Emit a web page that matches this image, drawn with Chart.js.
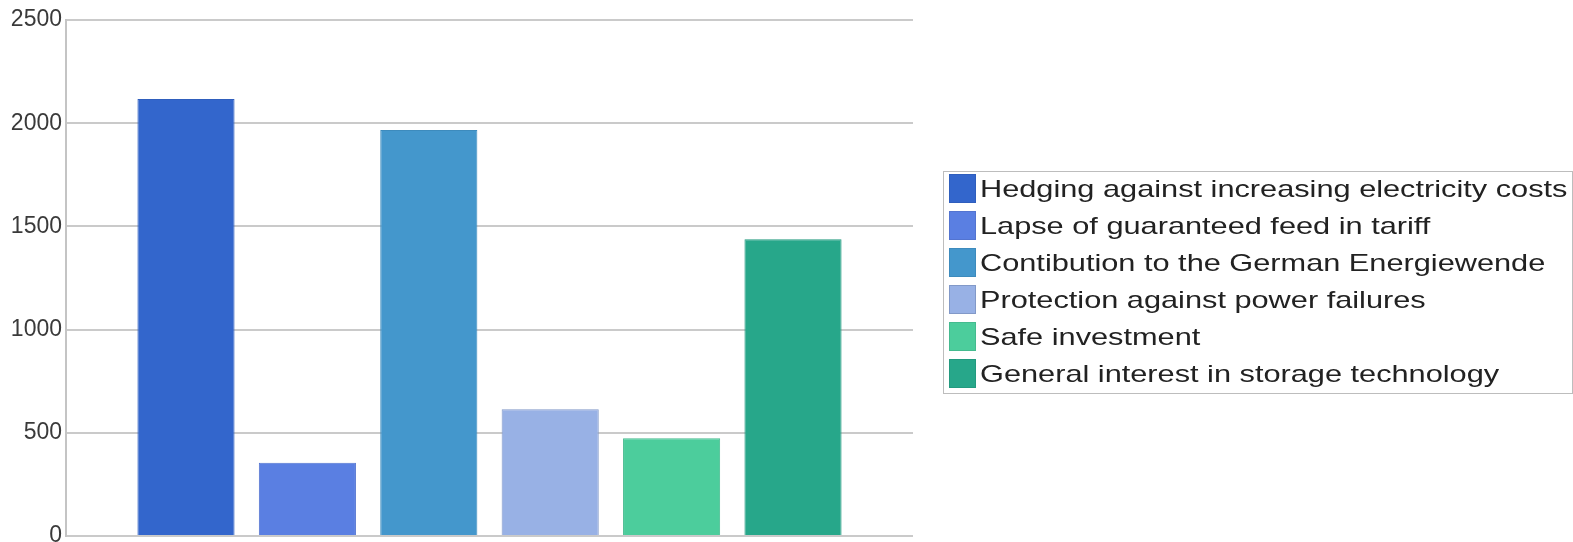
<!DOCTYPE html>
<html>
<head>
<meta charset="utf-8">
<script src="https://cdn.jsdelivr.net/npm/chart.js@4/dist/chart.umd.min.js"></script>
<style>
  html, body { margin: 0; padding: 0; background: #fff; }
</style>
</head>
<body>
<canvas id="chart" width="1573" height="542"></canvas>
<script>
// one category, one bar per reason
var categories = [''];
var reasons = [
  'Hedging against increasing electricity costs',
  'Lapse of guaranteed feed in tariff',
  'Contibution to the German Energiewende',
  'Protection against power failures',
  'Safe investment',
  'General interest in storage technology'
];
var counts = [2117, 355, 1967, 614, 474, 1438];
var yTicks = [0, 500, 1000, 1500, 2000, 2500];

var fills = ['#3366cc', '#5a7fe2', '#4497cc', '#98b1e5', '#4ccd9c', '#27a78a'];
var borders = ['#2f5ebd', '#5374d0', '#3d8bbd', '#8299c8', '#45bb8f', '#239a7f'];

var datasets = reasons.map(function (r, i) {
  return {
    label: r,
    data: [counts[i]],
    backgroundColor: fills[i],
    borderColor: borders[i],
    borderWidth: 1,
    categoryPercentage: 0.86,
    barPercentage: 0.8
  };
});

// boxed legend on the right, text is drawn a bit stretched like the original
var boxLegend = {
  id: 'boxLegend',
  afterDraw: function (chart) {
    var ctx = chart.ctx;
    var x0 = 943, y0 = 171, w = 629, h = 222;
    ctx.save();
    ctx.strokeStyle = '#bdbdbd';
    ctx.lineWidth = 1;
    ctx.strokeRect(x0 + 0.5, y0 + 0.5, w, h);
    chart.data.datasets.forEach(function (ds, i) {
      var top = y0 + 3 + i * 37;
      ctx.fillStyle = ds.backgroundColor;
      ctx.fillRect(x0 + 6, top, 27, 29);
      ctx.strokeStyle = ds.borderColor;
      ctx.strokeRect(x0 + 6.5, top + 0.5, 26, 28);
      ctx.save();
      ctx.translate(x0 + 37, top + 23);
      ctx.scale(1.28, 1);
      ctx.fillStyle = '#222';
      ctx.font = '24px "Liberation Sans", Arial, sans-serif';
      ctx.textBaseline = 'alphabetic';
      ctx.fillText(ds.label, 0, 0);
      ctx.restore();
    });
    ctx.restore();
  }
};

var ctx = document.getElementById('chart').getContext('2d');
var chart = new Chart(ctx, {
  type: 'bar',
  data: {
    labels: categories,
    datasets: datasets
  },
  options: {
    responsive: false,
    animation: false,
    devicePixelRatio: 1,
    layout: { padding: { left: 0, right: 660, top: 20, bottom: 6 } },
    plugins: {
      legend: { display: false },
      tooltip: { enabled: false }
    },
    scales: {
      x: { display: false },
      y: {
        min: 0,
        max: 2500,
        afterBuildTicks: function (scale) {
          scale.ticks = yTicks.map(function (v) { return { value: v }; });
        },
        afterFit: function (scale) {
          scale.width = 66;
          scale.paddingTop = 0;
          scale.paddingBottom = 0;
        },
        grid: { color: '#cacaca', lineWidth: 2, drawTicks: false },
        border: { color: '#c4c4c4', width: 2 },
        ticks: {
          padding: 4,
          color: '#3a3a3a',
          font: { family: '"Liberation Sans", Arial, sans-serif', size: 23 },
          callback: function (v) { return String(v); }
        }
      }
    }
  },
  plugins: [boxLegend]
});
</script>
</body>
</html>
